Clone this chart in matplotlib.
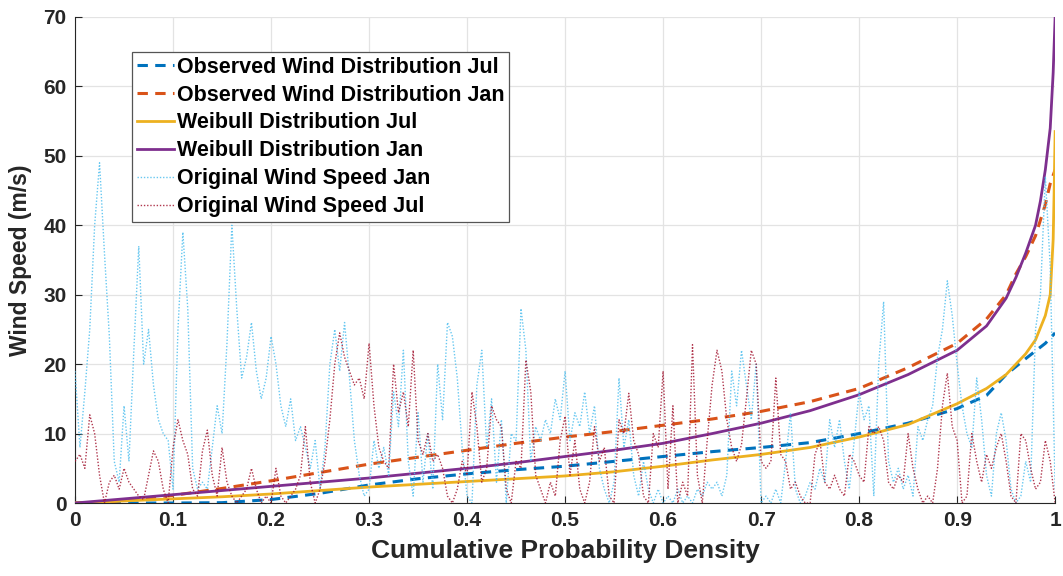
import numpy as np
import matplotlib
matplotlib.use("Agg")
import matplotlib.pyplot as plt
from matplotlib import font_manager

# ---------------- data ----------------
# Observed / Weibull distribution curves (cumulative probability, wind speed)
obs_jul_p = [0, 0.1, 0.15, 0.2, 0.25, 0.3, 0.35, 0.4, 0.45, 0.5, 0.55, 0.6, 0.65, 0.7, 0.75,
             0.8, 0.85, 0.9, 0.93, 0.95, 0.97, 0.99, 1.0]
obs_jul_v = [0, 0, 0.05, 0.5, 1.4, 2.6, 3.5, 4.2, 4.8, 5.3, 6.0, 6.7, 7.4, 8.0, 8.7,
             10.0, 11.5, 13.6, 15.5, 18.5, 20.8, 23.0, 24.5]

obs_jan_p = [0, 0.03, 0.05, 0.1, 0.15, 0.2, 0.25, 0.3, 0.35, 0.4, 0.45, 0.5, 0.55, 0.6, 0.65,
             0.7, 0.75, 0.8, 0.85, 0.9, 0.93, 0.95, 0.96, 0.97, 0.98, 0.99, 0.995, 1.0]
obs_jan_v = [0, 0.1, 0.4, 1.1, 2.1, 3.2, 4.4, 5.6, 6.6, 7.6, 8.6, 9.5, 10.3, 11.2, 12.1,
             13.2, 14.6, 16.5, 19.5, 23.0, 26.5, 30.0, 33.0, 35.5, 38.5, 43.0, 46.0, 48.0]

wb_jul_p = [0, 0.05, 0.1, 0.15, 0.2, 0.25, 0.3, 0.35, 0.4, 0.45, 0.5, 0.55, 0.6, 0.65, 0.7,
            0.75, 0.8, 0.85, 0.9, 0.93, 0.95, 0.97, 0.98, 0.99, 0.995, 0.998, 0.999, 1.0]
wb_jul_v = [0, 0.3, 0.6, 0.9, 1.3, 1.8, 2.3, 2.7, 3.1, 3.5, 3.9, 4.5, 5.3, 6.2, 7.0,
            8.0, 9.5, 11.3, 14.3, 16.5, 18.5, 21.5, 23.5, 27.0, 30.0, 38.0, 45.0, 53.5]

wb_jan_p = [0, 0.05, 0.1, 0.15, 0.2, 0.25, 0.3, 0.35, 0.4, 0.45, 0.5, 0.55, 0.6, 0.65, 0.7,
            0.75, 0.8, 0.85, 0.9, 0.93, 0.95, 0.96, 0.97, 0.98, 0.985, 0.99, 0.995, 0.998, 1.0]
wb_jan_v = [0, 0.6, 1.2, 1.8, 2.4, 3.0, 3.6, 4.3, 5.0, 5.8, 6.7, 7.6, 8.6, 10.0, 11.5,
            13.3, 15.6, 18.5, 22.0, 25.5, 29.5, 32.5, 36.0, 40.0, 43.5, 48.0, 54.0, 62.0, 70.0]

# Original wind speed time series (plotted against normalised time)
orig_jan = [19, 8, 16, 25, 40, 49, 36, 24, 6, 3, 14, 6, 22, 37, 20, 25, 17, 12, 10, 9,
            2, 25, 39, 28, 5, 2, 3, 2, 8, 14, 10, 23, 40, 28, 18, 21, 26, 19, 15, 18,
            24, 20, 14, 11, 15, 9, 11, 8, 5, 9, 2, 8, 20, 25, 19, 26, 18, 9, 4, 1,
            2, 9, 5, 8, 4, 16, 11, 22, 6, 1, 13, 3, 10, 2, 20, 12, 26, 24, 18, 8,
            1, 0, 17, 22, 8, 15, 3, 12, 0, 10, 9, 28, 22, 6, 11, 9, 12, 10, 15, 12,
            19, 9, 13, 11, 16, 10, 14, 5, 2, 0, 3, 18, 8, 12, 4, 1, 6, 2, 0, 2,
            0, 1, 0, 2, 0, 1, 0, 2, 1, 3, 2, 3, 1, 4, 19, 14, 22, 17, 12, 20,
            0, 1, 0, 2, 0, 6, 13, 2, 0, 1, 3, 2, 5, 3, 12, 8, 12, 6, 2, 9,
            16, 12, 14, 1, 20, 29, 6, 3, 5, 2, 4, 1, 11, 9, 12, 14, 21, 25, 32, 27,
            20, 14, 10, 8, 18, 12, 4, 1, 10, 13, 9, 2, 0, 1, 6, 3, 25, 30, 47, 34, 2]
orig_jul = [6, 7, 5, 12.7, 10, 4, 0, 3, 4, 2, 5, 3, 2, 1, 0.5, 4, 7.5, 6, 2, 0,
            8, 12, 9, 7, 2, 1, 7.5, 10.5, 4, 1, 8, 3, 1, 0, 1, 2, 5, 2, 0, 1,
            0, 5, 1, 0, 1, 2, 4, 11, 3, 0, 2, 6, 12, 20, 24.5, 21, 19, 17, 18, 15,
            23, 14, 8, 6, 5, 20, 13, 16, 11, 22, 9, 7, 10, 6, 7, 5, 1, 0, 2, 6,
            4, 16, 11, 3, 5, 14, 12, 11, 2, 0, 6, 5, 20.6, 16, 4, 2, 0, 3, 1, 9,
            12.5, 4, 9, 2, 0, 3, 11, 6, 8, 1, 0, 12, 10, 15.8, 9, 7, 1, 0, 10, 8,
            19, 2, 14, 0, 3, 1, 22.8, 4, 0, 9, 17, 22, 19, 12, 8, 6, 8.4, 15, 22, 20,
            6, 5, 6, 18, 7, 6, 2, 3, 1, 0, 0, 7, 9, 3, 2, 4, 2, 1, 7, 6,
            4, 3, 11, 10, 11, 9, 3, 2, 4, 3, 10, 5, 2, 0, 1, 0, 5, 14, 18.7, 11,
            9, 0, 1, 10, 6, 3, 7, 5, 8, 10, 6, 1, 0, 10, 9, 5, 2, 3, 9, 6, 0]

labels = ["Observed Wind Distribution Jul", "Observed Wind Distribution Jan",
          "Weibull Distribution Jul", "Weibull Distribution Jan",
          "Original Wind Speed Jan", "Original Wind Speed Jul"]
x_ticks = [0, 0.1, 0.2, 0.3, 0.4, 0.5, 0.6, 0.7, 0.8, 0.9, 1]
x_tick_labels = ["0", "0.1", "0.2", "0.3", "0.4", "0.5", "0.6", "0.7", "0.8", "0.9", "1"]
y_ticks = [0, 10, 20, 30, 40, 50, 60, 70]

# ---------------- style ----------------
avail = {f.name for f in font_manager.fontManager.ttflist}
narrow = "Liberation Sans Narrow" if "Liberation Sans Narrow" in avail else "Liberation Sans"
plt.rcParams['font.family'] = ['Liberation Sans', 'DejaVu Sans']

fig = plt.figure(figsize=(10.63, 5.76), dpi=100)
ax = fig.add_axes([0.0706, 0.1267, 0.922, 0.8438])

c_blue = "#0072BD"
c_orange = "#D95319"
c_yellow = "#EDB120"
c_purple = "#7E2F8E"
c_cyan = "#4DBEEE"
c_red = "#A2142F"

ax.plot(obs_jul_p, obs_jul_v, color=c_blue, lw=2.2, ls=(0, (3.4, 2.4)), label=labels[0], zorder=3)
ax.plot(obs_jan_p, obs_jan_v, color=c_orange, lw=2.2, ls=(0, (3.4, 2.4)), label=labels[1], zorder=3)
ax.plot(wb_jul_p, wb_jul_v, color=c_yellow, lw=2.0, label=labels[2], zorder=3)
ax.plot(wb_jan_p, wb_jan_v, color=c_purple, lw=2.0, label=labels[3], zorder=3)

t_jan = np.linspace(0, 1, len(orig_jan))
t_jul = np.linspace(0, 1, len(orig_jul))
ax.plot(t_jan, orig_jan, color=c_cyan, lw=1.0, ls=(0, (1, 1.3)), alpha=0.85, label=labels[4], zorder=4)
ax.plot(t_jul, orig_jul, color=c_red, lw=1.0, ls=(0, (1, 1.3)), alpha=0.85, label=labels[5], zorder=4)

ax.set_xlim(0, 1)
ax.set_ylim(0, 70)
ax.set_xticks(x_ticks)
ax.set_xticklabels(x_tick_labels)
ax.set_yticks(y_ticks)
for lab in ax.get_xticklabels() + ax.get_yticklabels():
    lab.set_fontfamily(narrow)
    lab.set_fontweight('bold')
    lab.set_fontsize(15)
    lab.set_color("#262626")

ax.grid(True, color="#e3e3e3", lw=0.9)
ax.set_axisbelow(True)
for s in ["top", "right"]:
    ax.spines[s].set_visible(False)
for s in ["left", "bottom"]:
    ax.spines[s].set_color("#262626")
    ax.spines[s].set_linewidth(0.8)
ax.tick_params(direction="in", length=5, width=0.8, color="#262626", pad=6)

ax.set_xlabel("Cumulative Probability Density", fontsize=19, fontweight="bold",
              family=narrow, color="#262626", labelpad=6)
ax.set_ylabel("Wind Speed (m/s)", fontsize=16.5, fontweight="bold", color="#262626", labelpad=8)

leg = ax.legend(loc="upper left", bbox_to_anchor=(0.058, 0.928),
                prop={'weight': 'bold', 'size': 15.5}, frameon=True, fancybox=False,
                edgecolor="#555555", framealpha=1, handlelength=1.75, handletextpad=0.12,
                borderpad=0.22, labelspacing=0.32, borderaxespad=0)
leg.get_frame().set_linewidth(0.9)

fig.savefig("out.png", dpi=100)
